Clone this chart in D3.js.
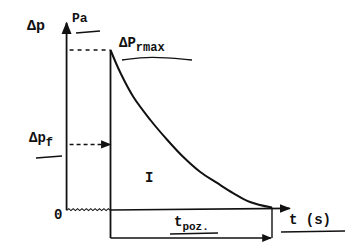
<!DOCTYPE html>
<html><head><meta charset="utf-8">
<script src="https://cdn.jsdelivr.net/npm/d3@7"></script>
<style>
html,body{margin:0;padding:0;background:#fff;}
svg{display:block;}
text{font-family:"Liberation Mono","DejaVu Sans Mono",monospace;font-weight:bold;fill:#111;}
</style></head>
<body>
<script>
// Normalised time t / t_poz and pressure Δp / Δp_rmax
const curveT = [0, 0.062, 0.142, 0.247, 0.352, 0.451, 0.556, 0.660, 0.759, 0.864, 1.0];
const curveP = [1, 0.856, 0.706, 0.5625, 0.4375, 0.331, 0.2375, 0.169, 0.106, 0.05, 0.015];
const pF = 0.41;          // Δp_f level
const pMax = 1;           // Δp_rmax level
const tAxisStart = -0.272; // y-axis position (broken axis)
const labels = {yAxis:"Δp", unit:"Pa", max:"ΔP", maxSub:"rmax", f:"Δp", fSub:"f",
  zero:"0", area:"I", xAxis:"t (s)", dur:"t", durSub:"poz."};

const W = 354, H = 248;
const svg = d3.select("body").append("svg").attr("width", W).attr("height", H);
const x = d3.scaleLinear().domain([0, 1]).range([110.5, 272]);
const y = d3.scaleLinear().domain([0, 1]).range([210, 50]);
const ink = "#111";

svg.append("defs").append("marker").attr("id","arr").attr("viewBox","0 0 10 10")
  .attr("refX",9).attr("refY",5).attr("markerWidth",7).attr("markerHeight",7).attr("orient","auto")
  .append("path").attr("d","M0,1 L10,5 L0,9 Z").attr("fill",ink);

const x0 = x(tAxisStart);
// y axis
svg.append("line").attr("x1",x0).attr("x2",x0).attr("y1",y(0)).attr("y2",y(1.17))
  .attr("stroke",ink).attr("stroke-width",1.8).attr("marker-end","url(#arr)");
// wavy break along baseline from y-axis to t=0
const wav = d3.range(0, 21).map(i => [x0 + i*(x(0)-x0)/20, y(0) + (i%2 ? -1.3 : 0.6)]);
svg.append("path").attr("d", d3.line()(wav)).attr("fill","none").attr("stroke",ink).attr("stroke-width",1.1);
// x axis
svg.append("line").attr("x1",x(0)).attr("x2",x(1.11)).attr("y1",y(0)).attr("y2",y(0.01))
  .attr("stroke",ink).attr("stroke-width",1.6).attr("marker-end","url(#arr)");
// vertical at t=0 from peak down to dimension line
svg.append("line").attr("x1",x(0)).attr("x2",x(0)).attr("y1",y(pMax)).attr("y2",238)
  .attr("stroke",ink).attr("stroke-width",1.8);
// vertical at t=1
svg.append("line").attr("x1",x(1)).attr("x2",x(1)).attr("y1",y(curveP[curveP.length-1])).attr("y2",238)
  .attr("stroke",ink).attr("stroke-width",1.4);
// dimension line
svg.append("line").attr("x1",x(0)).attr("x2",x(1)-1).attr("y1",238).attr("y2",238)
  .attr("stroke",ink).attr("stroke-width",1.4).attr("marker-end","url(#arr)");
// dashed lines
svg.append("line").attr("x1",x0+3).attr("x2",x(0)).attr("y1",y(pMax)).attr("y2",y(pMax))
  .attr("stroke",ink).attr("stroke-width",1.5).attr("stroke-dasharray","4,4");
svg.append("line").attr("x1",x0+3).attr("x2",x(0)).attr("y1",y(pF)).attr("y2",y(pF))
  .attr("stroke",ink).attr("stroke-width",1.5).attr("stroke-dasharray","4,3").attr("marker-end","url(#arr)");
// decay curve
const pts = curveT.map((t,i)=>[x(t), y(curveP[i])]);
svg.append("path").attr("d", d3.line().curve(d3.curveCatmullRom)(pts))
  .attr("fill","none").attr("stroke",ink).attr("stroke-width",2);

// texts
function lab(tx, px, py, size, sub, subSize){
  const t = svg.append("text").attr("x",px).attr("y",py).attr("font-size",size).text(tx);
  if (sub) t.append("tspan").attr("font-size",subSize).attr("dy",4).text(sub);
  return t;
}
lab(labels.yAxis, 27, 30, 15);
lab(labels.unit, 72, 22, 13);
lab(labels.max, 119, 47, 14, labels.maxSub, 12);
lab(labels.f, 29, 142, 14, labels.fSub, 12);
lab(labels.zero, 54, 219, 14);
lab(labels.area, 145, 182, 14);
lab(labels.xAxis, 289, 224, 14);
lab(labels.dur, 174, 226, 14, labels.durSub, 11);

// hand underlines
const ul = [[[76,33],[100,31]], [[122,60],[150,56],[192,60]], [[36,158],[62,156]],
            [[281,232],[345,231]], [[170,234],[218,233]]];
ul.forEach(u => svg.append("path").attr("d", d3.line().curve(d3.curveBasis)(u))
  .attr("fill","none").attr("stroke",ink).attr("stroke-width",1.4));
</script>
</body></html>
